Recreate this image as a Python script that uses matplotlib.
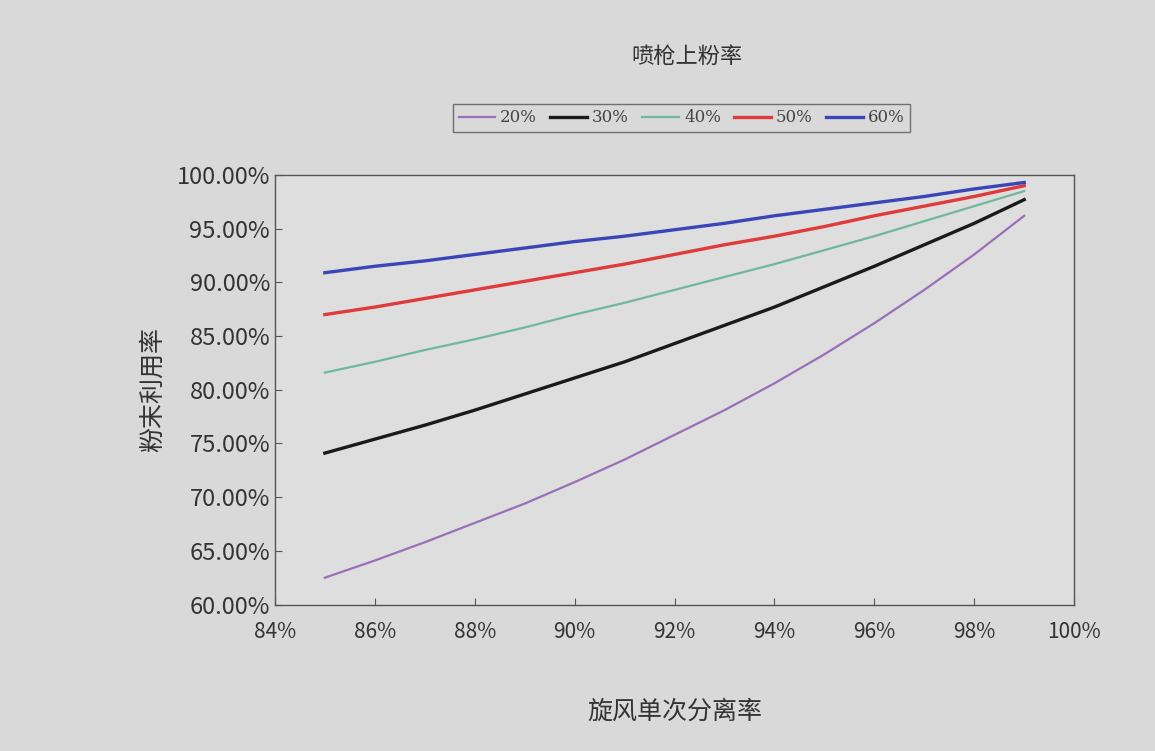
import matplotlib
matplotlib.use("Agg")
import matplotlib.pyplot as plt
from matplotlib.ticker import FuncFormatter

plt.rcParams['font.family'] = ['Noto Sans CJK SC', 'DejaVu Sans']

# cyclone single-pass separation rate (%)
separation = [85, 86, 87, 88, 89, 90, 91, 92, 93, 94, 95, 96, 97, 98, 99]

# powder utilisation (%) for each spray-gun deposition rate
util_20 = [62.5, 64.1, 65.8, 67.6, 69.4, 71.4, 73.5, 75.8, 78.1, 80.6, 83.3, 86.2, 89.3, 92.6, 96.2]
util_30 = [74.1, 75.4, 76.7, 78.1, 79.6, 81.1, 82.6, 84.3, 86.0, 87.7, 89.6, 91.5, 93.5, 95.5, 97.7]
util_40 = [81.6, 82.6, 83.7, 84.7, 85.8, 87.0, 88.1, 89.3, 90.5, 91.7, 93.0, 94.3, 95.7, 97.1, 98.5]
util_50 = [87.0, 87.7, 88.5, 89.3, 90.1, 90.9, 91.7, 92.6, 93.5, 94.3, 95.2, 96.2, 97.1, 98.0, 99.0]
util_60 = [90.9, 91.5, 92.0, 92.6, 93.2, 93.8, 94.3, 94.9, 95.5, 96.2, 96.8, 97.4, 98.0, 98.7, 99.3]

series = [util_20, util_30, util_40, util_50, util_60]
labels = ['20%', '30%', '40%', '50%', '60%']
colors = ['#9a6fb8', '#1a1a1a', '#6fb89a', '#e03a3a', '#3a45b8']
widths = [1.6, 2.4, 1.6, 2.4, 2.4]

bg = '#d9d9d9'
fig = plt.figure(figsize=(11.55, 7.51), dpi=100, facecolor=bg)
ax = fig.add_axes([0.238, 0.195, 0.692, 0.572], facecolor='#dedede')

for vals, lab, c, w in zip(series, labels, colors, widths):
    ax.plot(separation, vals, color=c, lw=w, label=lab)

ax.set_xlim(84, 100)
ax.set_ylim(60, 100)
ax.set_xticks(range(84, 101, 2))
ax.set_yticks(range(60, 101, 5))
ax.xaxis.set_major_formatter(FuncFormatter(lambda v, p: '%d%%' % v))
ax.yaxis.set_major_formatter(FuncFormatter(lambda v, p: '%.2f%%' % v))
ax.tick_params(axis='both', direction='in', length=5, color='#555555',
               labelcolor='#333333')
ax.tick_params(axis='y', labelsize=17)
ax.tick_params(axis='x', labelsize=15, pad=12)
for s in ax.spines.values():
    s.set_color('#555555')
    s.set_linewidth(1.0)

ax.set_ylabel('粉末利用率', fontsize=18, color='#333333', labelpad=8)
ax.set_xlabel('旋风单次分离率', fontsize=18, color='#333333', labelpad=40)

fig.text(0.595, 0.925, '喷枪上粉率', ha='center', va='center', fontsize=16, color='#333333')

leg = fig.legend(loc='center', bbox_to_anchor=(0.59, 0.843), ncol=5, frameon=True,
                 fancybox=False, handlelength=2.2, handletextpad=0.3,
                 columnspacing=0.8, borderpad=0.35,
                 prop={'family': 'DejaVu Serif', 'size': 12})
leg.get_frame().set_edgecolor('#555555')
leg.get_frame().set_facecolor(bg)
for t in leg.get_texts():
    t.set_color('#444444')

fig.savefig('out.png', dpi=100, facecolor=bg)
